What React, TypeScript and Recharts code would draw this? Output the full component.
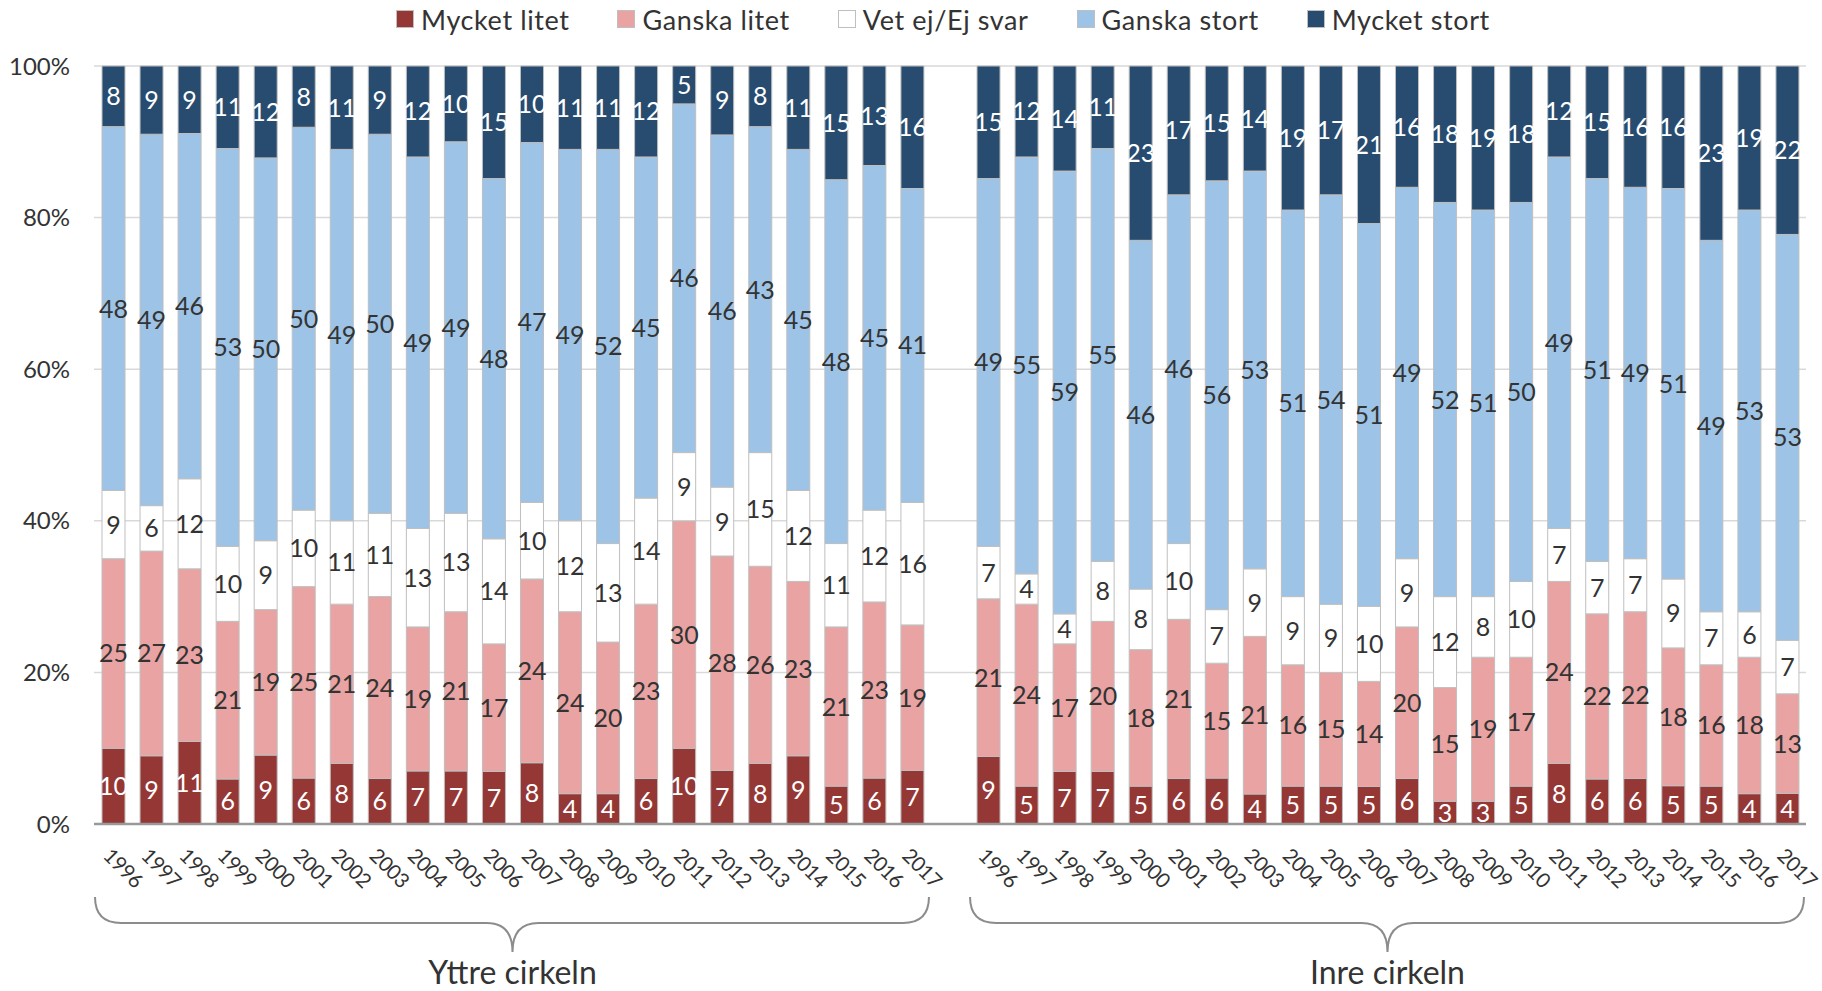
import React from 'react';
import { BarChart, Bar, XAxis, YAxis, CartesianGrid, Legend } from 'recharts';

const years = ['1996','1997','1998','1999','2000','2001','2002','2003','2004','2005','2006','2007','2008','2009','2010','2011','2012','2013','2014','2015','2016','2017'];

// Yttre cirkeln
const yttreMycketLitet = [10,9,11,6,9,6,8,6,7,7,7,8,4,4,6,10,7,8,9,5,6,7];
const yttreGanskaLitet = [25,27,23,21,19,25,21,24,19,21,17,24,24,20,23,30,28,26,23,21,23,19];
const yttreVetEj = [9,6,12,10,9,10,11,11,13,13,14,10,12,13,14,9,9,15,12,11,12,16];
const yttreGanskaStort = [48,49,46,53,50,50,49,50,49,49,48,47,49,52,45,46,46,43,45,48,45,41];
const yttreMycketStort = [8,9,9,11,12,8,11,9,12,10,15,10,11,11,12,5,9,8,11,15,13,16];

// Inre cirkeln
const inreMycketLitet = [9,5,7,7,5,6,6,4,5,5,5,6,3,3,5,8,6,6,5,5,4,4];
const inreGanskaLitet = [21,24,17,20,18,21,15,21,16,15,14,20,15,19,17,24,22,22,18,16,18,13];
const inreVetEj = [7,4,4,8,8,10,7,9,9,9,10,9,12,8,10,7,7,7,9,7,6,7];
const inreGanskaStort = [49,55,59,55,46,46,56,53,51,54,51,49,52,51,50,49,51,49,51,49,53,53];
const inreMycketStort = [15,12,14,11,23,17,15,14,19,17,21,16,18,19,18,12,15,16,16,23,19,22];

const groupNames = ['Yttre cirkeln', 'Inre cirkeln'];
const yTicks = [0, 0.2, 0.4, 0.6, 0.8, 1];

const seriesDefs = [
  { key: 'mycketLitet', name: 'Mycket litet', color: '#953735', text: '#ffffff' },
  { key: 'ganskaLitet', name: 'Ganska litet', color: '#E8A3A2', text: '#333333' },
  { key: 'vetEj', name: 'Vet ej/Ej svar', color: '#ffffff', text: '#333333' },
  { key: 'ganskaStort', name: 'Ganska stort', color: '#9DC3E6', text: '#333333' },
  { key: 'mycketStort', name: 'Mycket stort', color: '#284C6F', text: '#ffffff' },
];

type Row = { [k: string]: any };
const data: Row[] = [];
years.forEach((y, i) => {
  data.push({
    id: 'Y' + y, year: y,
    mycketLitet: yttreMycketLitet[i], ganskaLitet: yttreGanskaLitet[i], vetEj: yttreVetEj[i],
    ganskaStort: yttreGanskaStort[i], mycketStort: yttreMycketStort[i],
  });
});
data.push({ id: 'gap', year: '' });
years.forEach((y, i) => {
  data.push({
    id: 'I' + y, year: y,
    mycketLitet: inreMycketLitet[i], ganskaLitet: inreGanskaLitet[i], vetEj: inreVetEj[i],
    ganskaStort: inreGanskaStort[i], mycketStort: inreMycketStort[i],
  });
});

const W = 1822;
const H = 991;
const FONT = 'Lato, "Open Sans", sans-serif';
const MARGIN = { top: 0, right: 16, bottom: 107, left: 0 };
const YAXIS_W = 94;
const XAXIS_H = 60;
const plotLeft = MARGIN.left + YAXIS_W;
const plotRight = W - MARGIN.right;
const band = (plotRight - plotLeft) / data.length;

const XTick = (props: any) => {
  const { x, y, payload } = props;
  const label = payload && typeof payload.value === 'string' && payload.value !== 'gap' ? payload.value.slice(1) : '';
  if (!label) return null;
  const px = x - 11;
  const py = y + 33;
  return (
    <text x={px} y={py} transform={`rotate(45, ${px}, ${py})`} textAnchor="start"
      fontSize={20.5} letterSpacing={-0.5} fontFamily={FONT} fill="#333333">{label}</text>
  );
};

const makeLabel = (key: string, color: string) => (props: any) => {
  const { x, y, width, height } = props;
  const cx = x + width / 2;
  const idx = Math.round((cx - plotLeft) / band - 0.5);
  const row = data[idx];
  if (!row || row[key] === undefined || row[key] === null) return null;
  return (
    <text key={`${key}-${idx}`} x={cx} y={y + height / 2} dy="0.36em" textAnchor="middle"
      fontSize={25} fontFamily={FONT} fill={color}>{row[key]}</text>
  );
};

const LegendContent = () => (
  <div style={{ height: 66, display: 'flex', justifyContent: 'center', alignItems: 'flex-start', paddingLeft: 80, boxSizing: 'border-box', fontFamily: FONT }}>
    {seriesDefs.map((s, i) => (
      <div key={s.key} style={{ display: 'flex', alignItems: 'center', height: 38, marginRight: i === seriesDefs.length - 1 ? 0 : 48 }}>
        <span style={{ display: 'inline-block', width: 18, height: 18, background: s.color, border: '1px solid #bfbfbf', boxSizing: 'border-box', marginRight: 7 }} />
        <span style={{ fontSize: 27, letterSpacing: 0.6, color: '#333333' }}>{s.name}</span>
      </div>
    ))}
  </div>
);

const Braces = () => {
  const groups = [
    { start: 0, end: years.length - 1, label: groupNames[0] },
    { start: years.length + 1, end: data.length - 1, label: groupNames[1] },
  ];
  const top = 897, mid = 923, tip = 952, r = 26;
  return (
    <svg width={W} height={H} style={{ position: 'absolute', left: 0, top: 0, pointerEvents: 'none' }}>
      {groups.map((g) => {
        const x0 = plotLeft + band * g.start + band / 2 - 18;
        const x1 = plotLeft + band * g.end + band / 2 + 17;
        const c = (plotLeft + band * g.start + band / 2 + plotLeft + band * g.end + band / 2) / 2;
        const d = `M ${x0} ${top} Q ${x0} ${mid} ${x0 + r} ${mid} L ${c - r} ${mid} Q ${c} ${mid} ${c} ${tip} Q ${c} ${mid} ${c + r} ${mid} L ${x1 - r} ${mid} Q ${x1} ${mid} ${x1} ${top}`;
        return (
          <g key={g.label}>
            <path d={d} fill="none" stroke="#8c8c8c" strokeWidth={2} />
            <text x={c} y={984} textAnchor="middle" fontSize={32} fontFamily={FONT} fill="#333333">{g.label}</text>
          </g>
        );
      })}
    </svg>
  );
};

export default function App() {
  return (
    <div style={{ position: 'absolute', left: 0, top: 0, width: W, height: H, background: '#ffffff', fontFamily: FONT }}>
      <BarChart width={W} height={H} data={data} margin={MARGIN} stackOffset="expand" barSize={23}>
        <CartesianGrid vertical={false} stroke="#d9d9d9" strokeWidth={1.5} />
        <XAxis dataKey="id" interval={0} height={XAXIS_H} tickLine={false} tickSize={0} tickMargin={0}
          axisLine={{ stroke: '#999999', strokeWidth: 2.5 }} tick={<XTick />} />
        <YAxis width={YAXIS_W} domain={[0, 1]} ticks={yTicks} axisLine={false} tickLine={false} tickSize={0} tickMargin={24}
          tickFormatter={(v: number) => `${Math.round(v * 100)}%`}
          tick={{ fontSize: 24, fontFamily: FONT, fill: '#333333' }} />
        <Legend verticalAlign="top" align="center" content={<LegendContent />} />
        {seriesDefs.map((s) => (
          <Bar key={s.key} dataKey={s.key} name={s.name} stackId="a" fill={s.color} stroke="#bfbfbf" strokeWidth={1}
            isAnimationActive={false} label={makeLabel(s.key, s.text)} />
        ))}
      </BarChart>
      <Braces />
    </div>
  );
}
